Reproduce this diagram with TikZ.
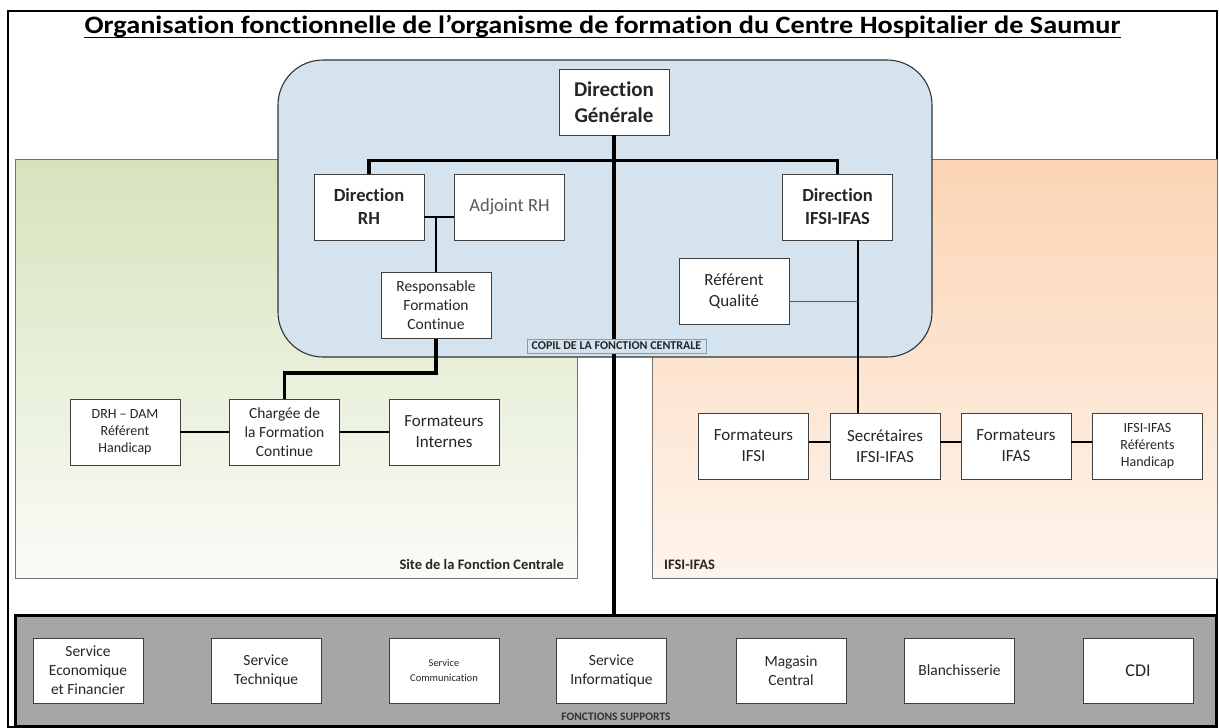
\documentclass[tikz,border=0pt]{standalone}
\usepackage{fontspec}
\setmainfont{Carlito}[Ligatures=NoCommon]
\newcommand{\setsz}[2]{\fontsize{#1}{#2}\selectfont}

\definecolor{copilblue}{RGB}{212,227,237}
\definecolor{copiledge}{RGB}{127,157,185}
\definecolor{sitegreen}{RGB}{214,227,188}
\definecolor{ifsiorange}{RGB}{251,212,180}
\definecolor{supportgray}{RGB}{166,166,166}

\begin{document}
\begin{tikzpicture}[x=1pt,y=-1pt,
		unit/.style={draw=black!75,fill=white,line width=0.9pt,align=center,minimum width=110pt,minimum height=66pt,inner sep=1pt,text=black!85},
		service/.style={unit,minimum height=65pt},
		zone/.style={draw=black!55,line width=0.9pt,minimum height=419pt},
		zonelabel/.style={font=\bfseries\setsz{14.5}{16},text=black!85,inner sep=0pt},
		link/.style={line width=1.8pt},
		trunk/.style={line width=3.2pt}]
		\useasboundingbox (0,0) rectangle (1219,728);
		\draw [line width=1.4pt] (8,11) rectangle (1217,727);

		% title
		\node (title) [anchor=base,inner sep=0pt,font=\bfseries\setsz{25}{28}] at (602.5,33) {\scalebox{1.13}[1]{Organisation fonctionnelle de l’organisme de formation du Centre Hospitalier de Saumur}};
		\draw [line width=1.5pt] ([yshift=-4.5pt]title.base west) -- ([yshift=-4.5pt]title.base east);

		% sites and copil
		\node (site) [zone,top color=sitegreen,bottom color=sitegreen!12!white,minimum width=562pt] at (296,368.5) {};
		\node (ifsi) [zone,top color=ifsiorange,bottom color=ifsiorange!25!white,minimum width=565pt] at (934.5,368.5) {};
		\node [zonelabel,anchor=base east] (sitelbl) at (564,569) {Site de la Fonction Centrale};
		\node [zonelabel,anchor=base west] (ifsilbl) at (664,569) {IFSI-IFAS};
		\node (copil) [fill=copilblue,draw=black!80,line width=1.1pt,rounded corners=45pt,minimum width=654pt,minimum height=297pt] at (605,208.5) {};
		\node (band) [fill=supportgray,draw=black,line width=3pt,minimum width=1201pt,minimum height=111pt] at (615.5,670.5) {};

		% direction
		\node (dg) [unit,font=\bfseries\setsz{21}{26}] at (614,102) {Direction\\Générale};
		\node (dirrh) [unit,font=\bfseries\setsz{18.5}{23}] at (369,207) {Direction\\RH};
		\node (adjrh) [unit,font=\setsz{18.5}{23},text=black!65] at (509.5,207) {Adjoint RH};
		\node (respfc) [unit,font=\setsz{15.5}{19}] at (436,305.5) {Responsable\\Formation\\Continue};
		\node (dirifsi) [unit,font=\bfseries\setsz{18.5}{23}] at (837.5,207) {Direction\\IFSI-IFAS};
		\node (qualite) [unit,font=\setsz{17}{21}] at (734,291.5) {Référent\\Qualité};

		\draw [trunk] (dg.south) -- (dg.south |- band.north);
		\draw [trunk] (dirrh.north) -- ++(0,-13) -| (dirifsi.north);
		\node (copillbl) [fill=copilblue,draw=copiledge,line width=0.8pt,font=\bfseries\setsz{12}{13},text=black!85,minimum width=179pt,minimum height=14pt,inner sep=0.5pt] at (616.5,346) {COPIL DE LA FONCTION CENTRALE};

		% site de la fonction centrale
		\node (drhdam) [unit,font=\setsz{14}{17}] at (125,432) {DRH – DAM\\Référent\\Handicap};
		\node (charge) [unit,font=\setsz{15.5}{19}] at (284.5,432) {Chargée de\\la Formation\\Continue};
		\node (formint) [unit,font=\setsz{17}{21}] at (444,432) {Formateurs\\Internes};

		% ifsi-ifas
		\node (formifsi) [unit,font=\setsz{17}{21}] at (753.5,446) {Formateurs\\IFSI};
		\node (secr) [unit,font=\setsz{17}{21}] at (885,446) {Secrétaires\\IFSI-IFAS};
		\node (formifas) [unit,font=\setsz{17}{21}] at (1016,446) {Formateurs\\IFAS};
		\node (refhand) [unit,font=\setsz{14}{17}] at (1147.5,446) {IFSI-IFAS\\Référents\\Handicap};

		% links
		\coordinate (rhjoin) at ([yshift=-10pt]dirrh.east);
		\draw [link] (rhjoin) -- (rhjoin -| adjrh.west);
		\draw [link] (respfc.north) -- (respfc.north |- rhjoin);
		\draw [line width=3.8pt] (respfc.south) -- ++(0,34) -| (charge.north);
		\foreach \a/\b in {drhdam/charge,charge/formint}
			\draw [link] (\a.east) -- (\b.west);
		\coordinate (ifsitap) at ([xshift=20.5pt]dirifsi.south);
		\draw [link] (ifsitap) -- (ifsitap |- secr.north);
		\coordinate (qualtap) at ([yshift=-9.5pt]qualite.east);
		\draw [line width=0.9pt,draw=black!65] (qualtap) -- (qualtap -| ifsitap);
		\foreach \a/\b in {formifsi/secr,secr/formifas,formifas/refhand}
			\draw [link] ([yshift=4pt]\a.east) -- ([yshift=4pt]\b.west);

		% fonctions supports
		\foreach \x/\nm/\fs/\bs/\txt in {88/eco/15.5/19/{Service\\Economique\\et Financier},266/tech/15.5/19/{Service\\Technique},444/comm/10.5/15/{Service\\Communication},611.5/info/15.5/19/{Service\\Informatique},791/magasin/15.5/19/{Magasin\\Central},959.5/blanch/15.5/18/{Blanchisserie},1138/cdi/18/22/{CDI}}
			\node (\nm) [service,font=\setsz{\fs}{\bs}] at (\x,670.5) {\txt};
		\node (supportlbl) [anchor=base,inner sep=0pt,font=\bfseries\setsz{11.5}{13},text=black!80] at (616,720) {FONCTIONS SUPPORTS};
	\end{tikzpicture}
\end{document}
